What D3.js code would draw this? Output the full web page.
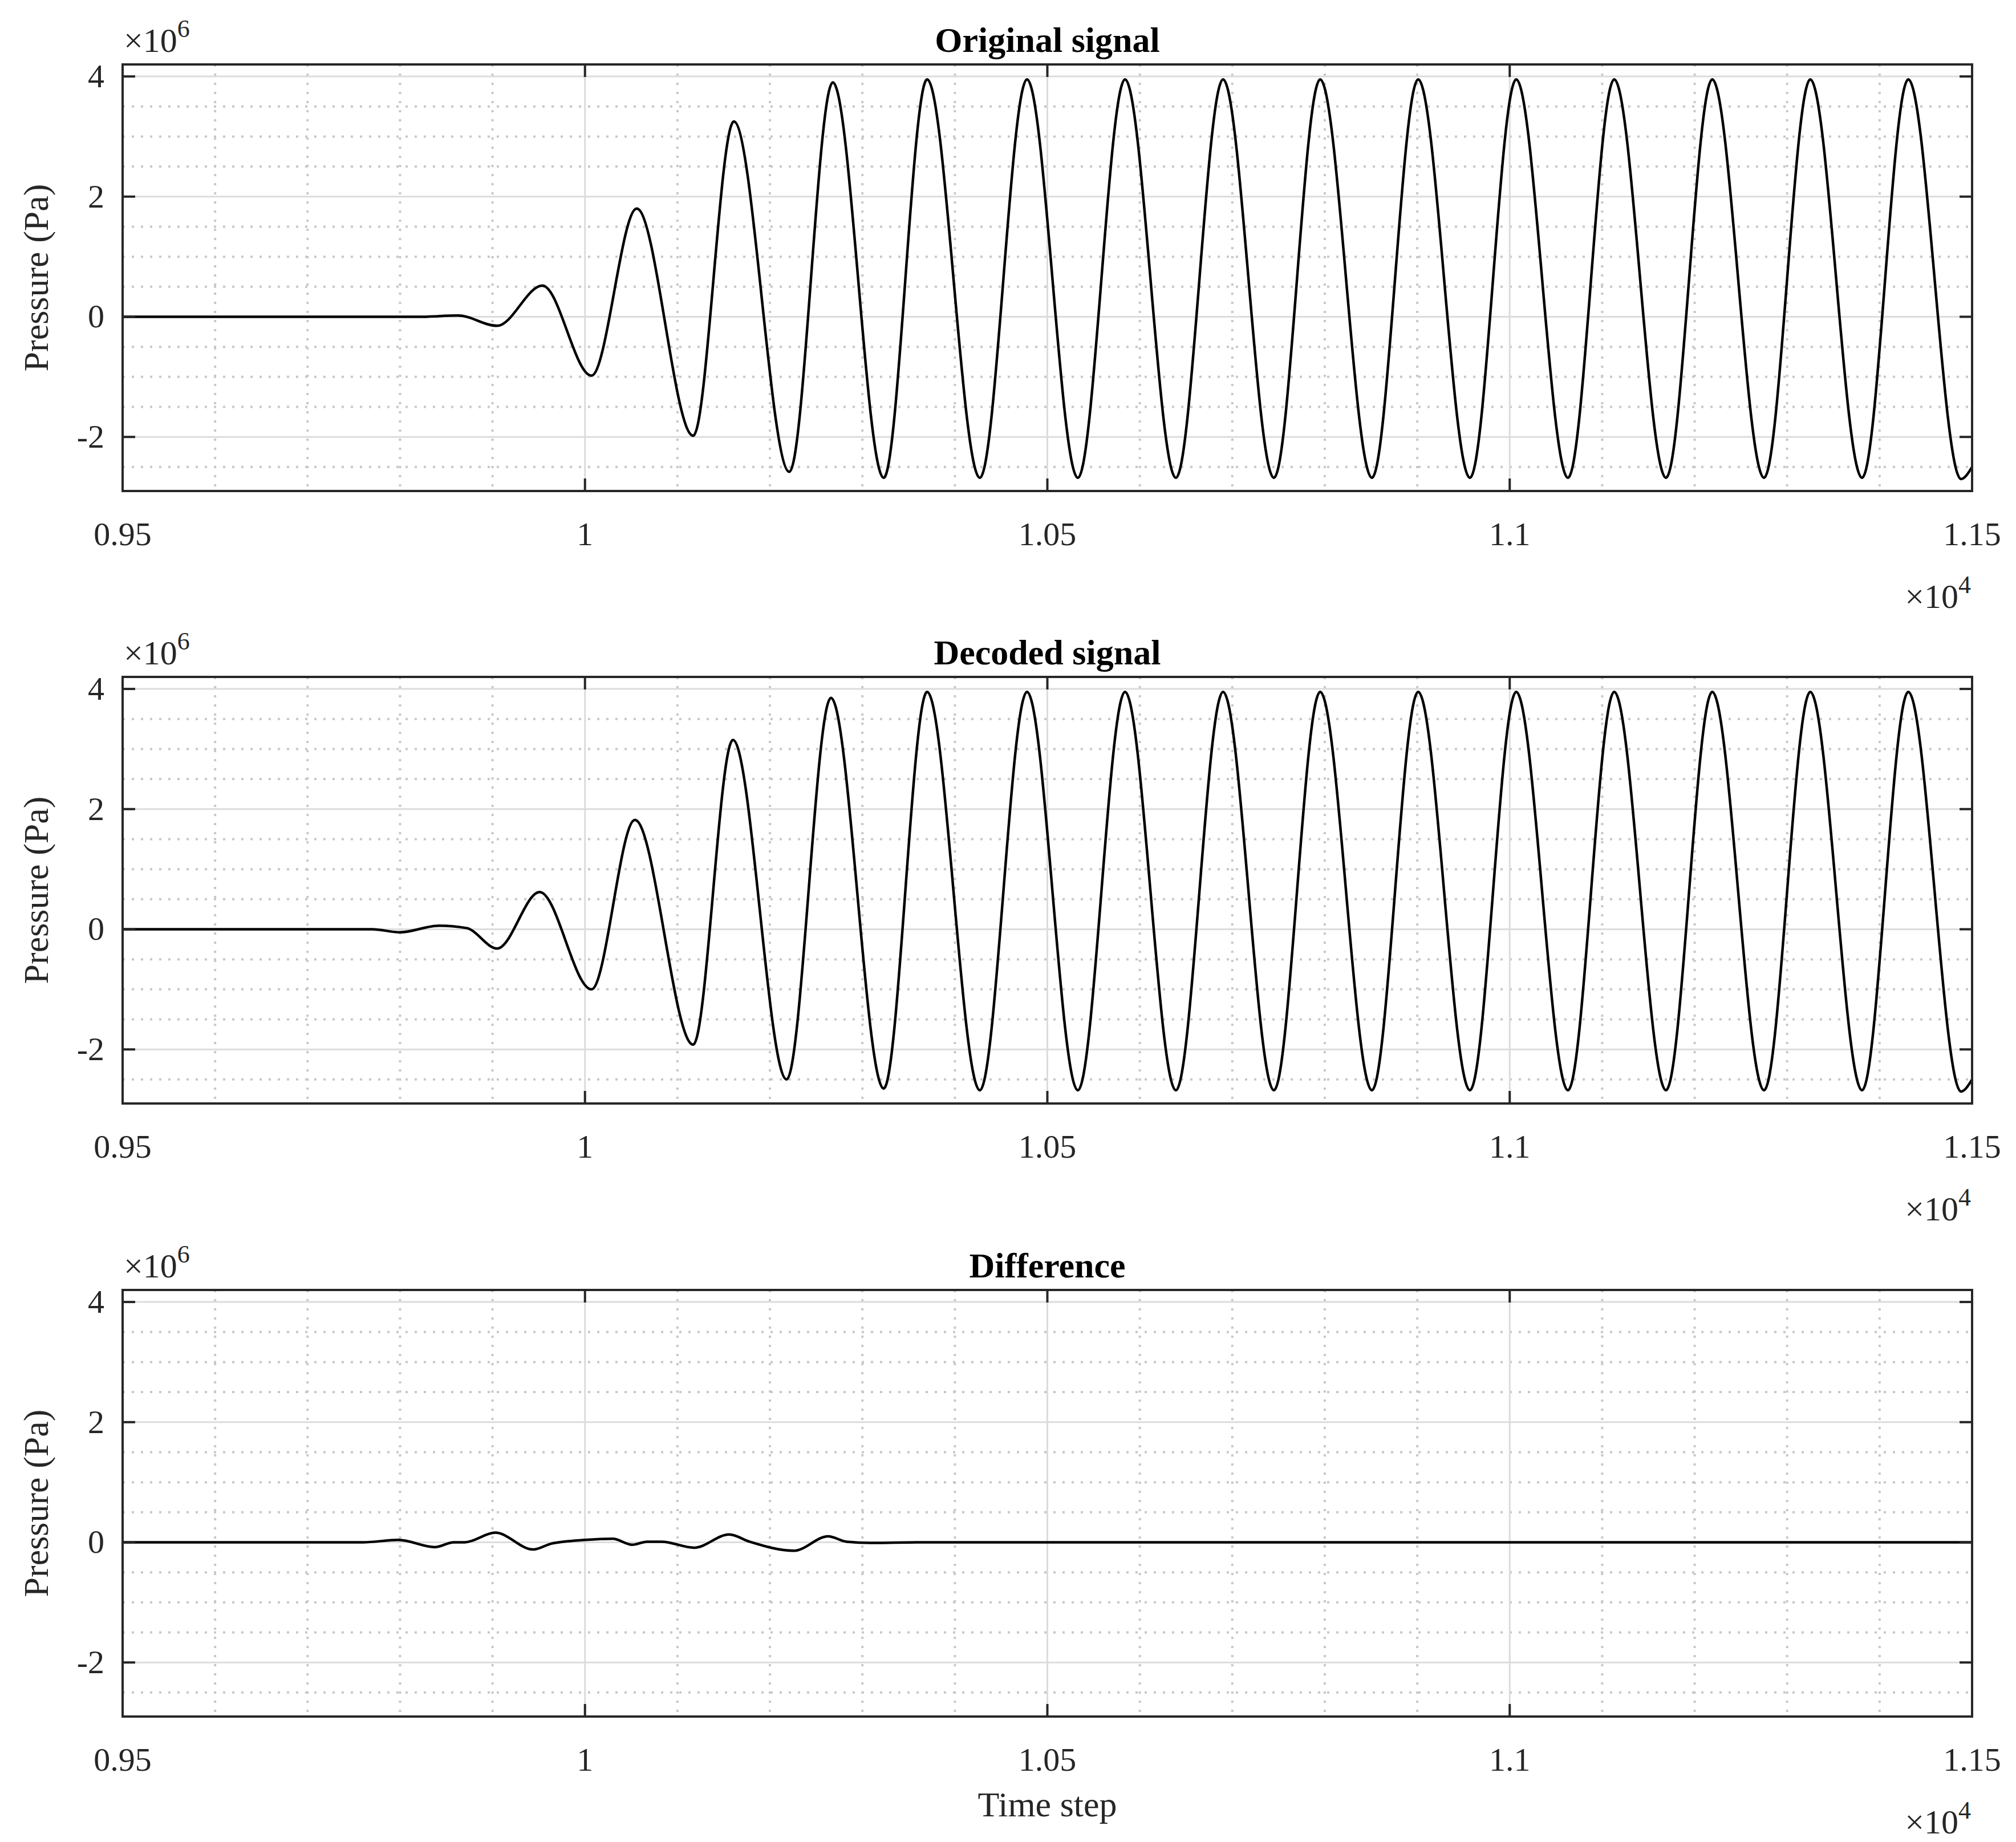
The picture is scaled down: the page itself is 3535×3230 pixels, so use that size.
<!DOCTYPE html>
<html>
<head>
<meta charset="utf-8">
<script src="https://cdn.jsdelivr.net/npm/d3@7"></script>
<style>
  body { margin: 0; background: #fff; }
  text { font-family: "Liberation Serif", "DejaVu Serif", serif; fill: #262626; }
</style>
</head>
<body>
<script>
'use strict';

// Extrema / key points (time step, pressure in 1e6 Pa)
const originalT = [9500, 9820, 9863, 9905, 9954, 10007, 10056, 10117, 10161, 10221, 10268, 10323, 10370, 10427, 10478, 10533, 10584, 10639, 10690, 10745, 10795, 10851, 10901, 10957, 11007, 11063, 11113, 11169, 11219, 11275, 11325, 11381, 11431, 11488, 11500];
const originalV = [0, 0, 0.02, -0.15, 0.52, -0.98, 1.8, -1.98, 3.25, -2.58, 3.9, -2.68, 3.95, -2.68, 3.95, -2.68, 3.95, -2.68, 3.95, -2.68, 3.95, -2.68, 3.95, -2.68, 3.95, -2.68, 3.95, -2.68, 3.95, -2.68, 3.95, -2.68, 3.95, -2.7, -2.5];

const decodedT = [9500, 9770, 9800, 9842, 9872, 9905, 9951, 10007, 10054, 10117, 10160, 10218, 10266, 10323, 10370, 10427, 10478, 10533, 10584, 10639, 10690, 10745, 10795, 10851, 10901, 10957, 11007, 11063, 11113, 11169, 11219, 11275, 11325, 11381, 11431, 11488, 11500];
const decodedV = [0, 0, -0.05, 0.06, 0.02, -0.32, 0.62, -1.0, 1.82, -1.92, 3.15, -2.5, 3.85, -2.65, 3.95, -2.68, 3.95, -2.68, 3.95, -2.68, 3.95, -2.68, 3.95, -2.68, 3.95, -2.68, 3.95, -2.68, 3.95, -2.68, 3.95, -2.68, 3.95, -2.68, 3.95, -2.7, -2.5];

const diffT = [9500, 9760, 9798, 9838, 9858, 9870, 9903, 9944, 9964, 10000, 10030, 10051, 10067, 10083, 10118, 10156, 10178, 10226, 10263, 10283, 10312, 10359, 11500];
const diffV = [0, 0, 0.04, -0.08, 0, 0, 0.16, -0.12, -0.02, 0.04, 0.06, -0.04, 0.01, 0.01, -0.09, 0.13, 0.01, -0.14, 0.1, 0.01, -0.01, 0, 0];

const titles = ["Original signal", "Decoded signal", "Difference"];
const xTicks = [0.95, 1, 1.05, 1.1, 1.15];
const xTickLabels = ["0.95", "1", "1.05", "1.1", "1.15"];
const yTicks = [-2, 0, 2, 4];

const series = [
  originalT.map((t, i) => ({t, v: originalV[i]})),
  decodedT.map((t, i) => ({t, v: decodedV[i]})),
  diffT.map((t, i) => ({t, v: diffV[i]}))
];

const W = 3535, H = 3230;
const left = 215, right = 3458, panelH = 748;
const tops = [113, 1187, 2262];

const svg = d3.select("body").append("svg")
  .attr("width", W).attr("height", H);

const x = d3.scaleLinear().domain([9500, 11500]).range([left, right]);

tops.forEach((top, k) => {
  const y = d3.scaleLinear().domain([-2.9, 4.2]).range([top + panelH, top]);
  const g = svg.append("g");

  // minor grid
  const xMinor = d3.range(9600, 11500, 100).filter(t => t % 500 !== 0);
  g.selectAll(".xm").data(xMinor).join("line")
    .attr("x1", d => x(d)).attr("x2", d => x(d))
    .attr("y1", top).attr("y2", top + panelH)
    .attr("stroke", "#c8c8c8").attr("stroke-width", 4).attr("stroke-dasharray", "4,12");
  const yMinor = d3.range(-2.5, 4.01, 0.5).filter(v => Math.abs(v % 2) > 0.01);
  g.selectAll(".ym").data(yMinor).join("line")
    .attr("x1", left).attr("x2", right)
    .attr("y1", d => y(d)).attr("y2", d => y(d))
    .attr("stroke", "#c8c8c8").attr("stroke-width", 4).attr("stroke-dasharray", "4,12");
  // major grid
  g.selectAll(".xM").data(xTicks.slice(1, -1)).join("line")
    .attr("x1", d => x(d * 1e4)).attr("x2", d => x(d * 1e4))
    .attr("y1", top).attr("y2", top + panelH)
    .attr("stroke", "#dcdcdc").attr("stroke-width", 3);
  g.selectAll(".yM").data(yTicks).join("line")
    .attr("x1", left).attr("x2", right)
    .attr("y1", d => y(d)).attr("y2", d => y(d))
    .attr("stroke", "#dcdcdc").attr("stroke-width", 3);

  // curve
  const line = d3.line().x(d => x(d.t)).y(d => y(d.v)).curve(d3.curveMonotoneX);
  g.append("path").datum(series[k]).attr("d", line)
    .attr("fill", "none").attr("stroke", "#000").attr("stroke-width", 4.5);

  // ticks (inward) on all sides
  const tl = 22;
  xTicks.forEach(d => {
    const xx = x(d * 1e4);
    g.append("line").attr("x1", xx).attr("x2", xx).attr("y1", top + panelH).attr("y2", top + panelH - tl)
      .attr("stroke", "#262626").attr("stroke-width", 4);
    g.append("line").attr("x1", xx).attr("x2", xx).attr("y1", top).attr("y2", top + tl)
      .attr("stroke", "#262626").attr("stroke-width", 4);
  });
  yTicks.forEach(d => {
    g.append("line").attr("x1", left).attr("x2", left + tl).attr("y1", y(d)).attr("y2", y(d))
      .attr("stroke", "#262626").attr("stroke-width", 4);
    g.append("line").attr("x1", right).attr("x2", right - tl).attr("y1", y(d)).attr("y2", y(d))
      .attr("stroke", "#262626").attr("stroke-width", 4);
  });

  // box
  g.append("rect").attr("x", left).attr("y", top).attr("width", right - left).attr("height", panelH)
    .attr("fill", "none").attr("stroke", "#262626").attr("stroke-width", 4);

  // tick labels
  g.selectAll(".xl").data(xTicks).join("text")
    .attr("x", d => x(d * 1e4)).attr("y", top + panelH + 95)
    .attr("text-anchor", "middle").attr("font-size", 58)
    .text((d, i) => xTickLabels[i]);
  g.selectAll(".yl").data(yTicks).join("text")
    .attr("x", left - 32).attr("y", d => y(d) + 19)
    .attr("text-anchor", "end").attr("font-size", 58)
    .text(d => d);

  // exponent labels
  const e6 = g.append("text").attr("x", left + 2).attr("y", top - 22).attr("font-size", 60);
  e6.append("tspan").text("\u00d710");
  e6.append("tspan").attr("dy", -26).attr("font-size", 44).text("6");
  const e4 = g.append("text").attr("x", right - 2).attr("y", top + panelH + 205)
    .attr("text-anchor", "end").attr("font-size", 60);
  e4.append("tspan").text("\u00d710");
  e4.append("tspan").attr("dy", -26).attr("font-size", 44).text("4");

  // title
  g.append("text").attr("x", (left + right) / 2).attr("y", top - 22)
    .attr("text-anchor", "middle").attr("font-size", 62).attr("font-weight", "bold")
    .style("fill", "#000").text(titles[k]);

  // y label
  g.append("text")
    .attr("transform", `translate(${84},${top + panelH / 2}) rotate(-90)`)
    .attr("text-anchor", "middle").attr("font-size", 62)
    .text("Pressure (Pa)");
});

svg.append("text").attr("x", (left + right) / 2).attr("y", tops[2] + panelH + 175)
  .attr("text-anchor", "middle").attr("font-size", 62).text("Time step");
</script>
</body>
</html>
